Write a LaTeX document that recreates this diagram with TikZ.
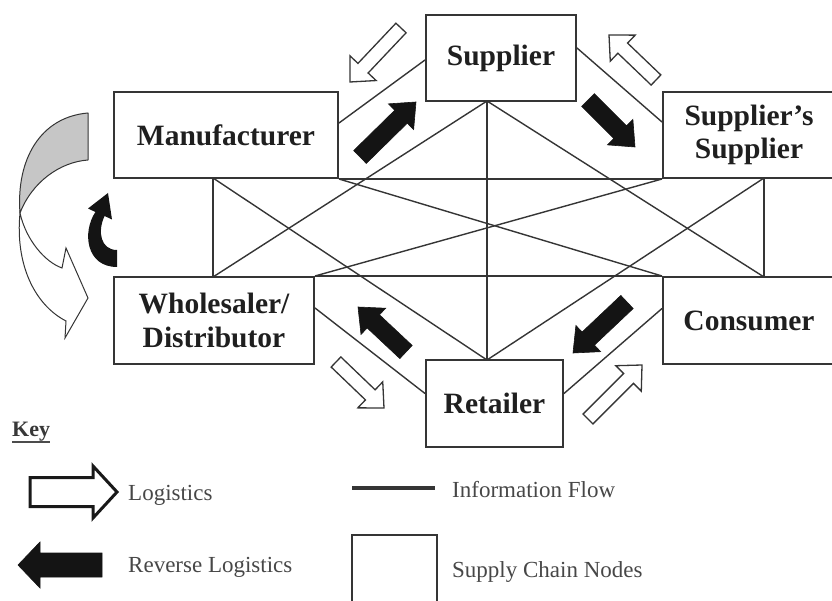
\documentclass[tikz,border=0pt]{standalone}
\usepackage{fontspec}
\setmainfont{Liberation Serif}
\usetikzlibrary{calc}
\definecolor{ln}{HTML}{353535}
\definecolor{bandgray}{HTML}{C6C6C6}
\tikzset{
  box/.style={draw=ln, line width=2pt, minimum height=86pt, inner sep=0pt, align=center,
    font=\fontsize{29.5}{33.5}\selectfont\bfseries, text=black!88},
  info/.style={draw=ln, line width=1.4pt},
  logi/.style={draw=ln, fill=white, line width=1.3pt, line join=miter},
  legl/.style={draw=black!90, fill=white, line width=3pt, line join=miter},
  rev/.style={fill=black!92, draw=black!92, line width=0.6pt, line join=miter},
  keytext/.style={font=\fontsize{23}{26}\selectfont, text=black!72, anchor=base west, inner sep=0pt},
}
\newcommand{\blockarrow}[6]{%
  \coordinate (ba) at #2; \coordinate (bb) at #3;
  \coordinate (bh) at ($(bb)!#6!(ba)$);
  \path[#1] ($(ba)!#4!90:(bb)$) -- ($(bh)!#4!90:(bb)$) -- ($(bh)!#5!90:(bb)$) -- (bb)
    -- ($(bh)!#5!-90:(bb)$) -- ($(bh)!#4!-90:(bb)$) -- ($(ba)!#4!-90:(bb)$) -- cycle;}
\begin{document}
\begin{tikzpicture}[x=1pt,y=-1pt]
\useasboundingbox (0,0) rectangle (832,601);
\clip (0,0) rectangle (832,601);

% supply chain nodes
\node[box, minimum width=224pt] (M) at (226,135) {Manufacturer};
\node[box, minimum width=150pt] (S) at (501,58) {Supplier};
\node[box, minimum width=172pt] (SS) at (749,135) {Supplier's\\Supplier};
\node[box, minimum width=200pt, minimum height=87pt] (W) at (214,320.5) {Wholesaler/\\Distributor};
\node[box, minimum width=172pt, minimum height=87pt] (C) at (749,320.5) {Consumer};
\node[box, minimum width=137pt, minimum height=87pt] (R) at (494.5,403.5) {Retailer};

% hub points of the information web
\coordinate (hS) at (487,101);
\coordinate (hR) at (487,360);
\coordinate (mL) at (213,178);
\coordinate (wL) at (213,277);
\coordinate (sR) at (764,178);
\coordinate (cR) at (764,277);

% information flow
\draw[info] ($(M.east)+(0,-12)$) -- ($(S.west)+(0,2)$);
\draw[info] ($(S.east)+(0,-10)$) -- ($(SS.west)+(0,-13)$);
\draw[info] ($(W.east)+(0,-12.5)$) -- ($(R.west)+(0,-10)$);
\draw[info] ($(R.east)+(0,-10)$) -- ($(C.west)+(0,-12)$);
\draw[info] (M.south east) -- (SS.south west);
\draw[info] (W.north east) -- (C.north west);
\draw[info] (hS) -- (hR);
\draw[info] (hS) -- (wL);
\draw[info] (hS) -- (cR);
\draw[info] (mL) -- (wL);
\draw[info] (sR) -- (cR);
\draw[info] (mL) -- (hR);
\draw[info] (sR) -- (hR);
\draw[info] (M.south east) -- (C.north west);
\draw[info] (W.north east) -- (SS.south west);

% reverse logistics arrows
\blockarrow{rev}{(360,157)}{(416,102)}{9pt}{18pt}{21pt}
\blockarrow{rev}{(588,100)}{(635,147)}{9pt}{18pt}{21pt}
\blockarrow{rev}{(406,352)}{(358,307)}{9pt}{18pt}{21pt}
\blockarrow{rev}{(627,302)}{(573,353)}{9pt}{18pt}{21pt}

% logistics arrows
\blockarrow{logi}{(401,28)}{(350,82)}{7pt}{18pt}{19pt}
\blockarrow{logi}{(656,80)}{(609,35)}{7pt}{18pt}{19pt}
\blockarrow{logi}{(336,362)}{(384,408)}{7pt}{18pt}{19pt}
\blockarrow{logi}{(588,419)}{(642,365)}{7pt}{18pt}{19pt}

% curved loop arrow on the left
\filldraw[fill=bandgray, draw=ln, line width=1pt, line join=round]
  (88,113) -- (88,160) .. controls (60,162) and (32,182) .. (20,213)
  .. controls (16,160) and (40,117) .. (88,113) -- cycle;
\filldraw[fill=white, draw=ln, line width=1pt, line join=miter]
  (20,213) .. controls (26,240) and (45,262) .. (62,268) -- (66,248) -- (88,298)
  -- (65,338) -- (66,321) .. controls (35,305) and (15,265) .. (20,213) -- cycle;
\fill[black!92]
  (117,250) .. controls (101,250) and (97,232) .. (104.6,216) -- (112,219.5) -- (108,193)
  -- (88,208.5) -- (95.4,212) .. controls (82,232) and (86,267) .. (117,267) -- cycle;

% key
\node[font=\fontsize{22}{24}\selectfont\bfseries, text=black!78, anchor=base west, inner sep=0pt] (key) at (12,436) {Key};
\draw[line width=1.6pt, black!70] ($(key.base west)+(0,6)$) -- ($(key.base east)+(0,6)$);

\blockarrow{legl}{(30,492)}{(117,492)}{14.5pt}{26pt}{24pt}
\node[keytext] (tl) at (128,500) {Logistics};
\blockarrow{rev}{(102,565)}{(18,565)}{12pt}{23pt}{22pt}
\node[keytext] (tr) at (128,572.5) {Reverse Logistics};

\coordinate (ia) at (352,488);
\coordinate (ib) at (435,488);
\draw[line width=4pt, ln] (ia) -- (ib);
\node[keytext] (ti) at (452,497) {Information Flow};
\draw[draw=ln, line width=2pt] (352,535) rectangle (437,620);
\node[keytext] (tn) at (452,577) {Supply Chain Nodes};
\end{tikzpicture}
\end{document}
